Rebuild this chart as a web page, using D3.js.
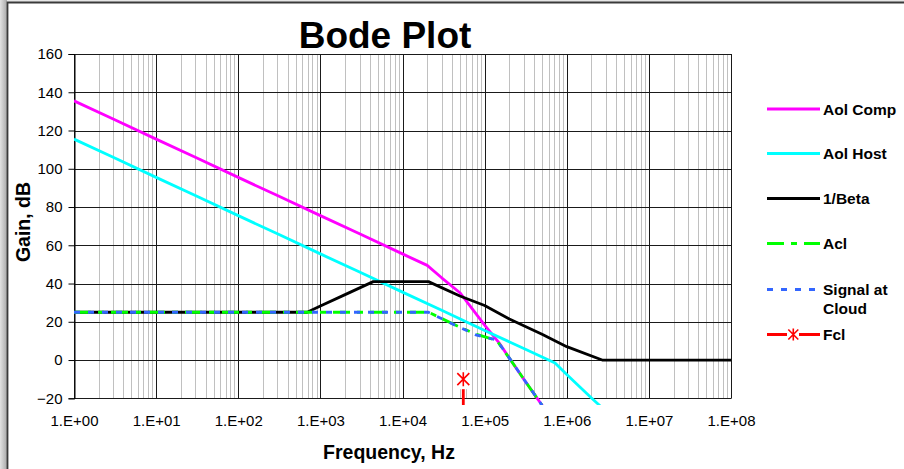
<!DOCTYPE html>
<html>
<head>
<meta charset="utf-8">
<script src="https://cdn.jsdelivr.net/npm/d3@7"></script>
<style>
html,body{margin:0;padding:0;background:#fff;}
svg{display:block;font-family:Arial,"Liberation Sans",sans-serif;}
</style>
</head>
<body>
<svg id="chart" width="904" height="469"></svg>
<script>
// ---------- data ----------
const yTicks = [-20, 0, 20, 40, 60, 80, 100, 120, 140, 160];
const xDecades = [1, 10, 100, 1000, 10000, 100000, 1000000, 10000000, 100000000];
const xTickLabels = ["1.E+00","1.E+01","1.E+02","1.E+03","1.E+04","1.E+05","1.E+06","1.E+07","1.E+08"];

const seriesNames = ["Aol Comp", "Aol Host", "1/Beta", "Acl", "Signal at Cloud", "Fcl"];

const aolCompFreq = [1, 3, 10, 30, 100, 300, 1000, 3000, 10000, 20000, 30000, 50000, 70000, 100000, 150000, 200000, 300000, 500000, 700000];
const aolCompDb   = [135.5, 126, 115.5, 106, 95.5, 86, 75.5, 66, 55.5, 49.5, 43, 35.2, 27, 18.3, 9, 1, -10, -23.6, -32];

const aolHostFreq = [1, 3, 10, 30, 100, 300, 1000, 3000, 10000, 30000, 100000, 300000, 720000, 1000000, 2000000, 3000000];
const aolHostDb   = [115.5, 106, 95.5, 86, 75.5, 66, 55.5, 46, 35.5, 26, 15.5, 6, -1.5, -7.6, -19.8, -26.8];

const betaFreq = [1, 10, 100, 690, 1000, 2000, 4400, 10000, 20700, 50000, 100000, 200000, 500000, 1000000, 2700000, 10000000, 100000000];
const betaDb   = [25, 25, 25, 25, 28.2, 34.2, 41, 41, 41, 33.5, 28.5, 21.5, 13.5, 7, 0, 0, 0];

const aclFreq = [1, 10, 100, 1000, 10000, 20700, 50000, 80000, 140000, 200000, 300000, 500000];
const aclDb   = [25, 25, 25, 25, 25, 25, 17.2, 13.4, 10.3, 1, -10, -23.6];

const signalFreq = [1, 10, 100, 1000, 10000, 20700, 50000, 80000, 140000, 200000, 300000, 500000];
const signalDb   = [25, 25, 25, 25, 25, 25, 17.0, 13.0, 10.5, 1, -10, -23.6];

const fclFreq = [55000, 55000];
const fclDb   = [-10, -40];

// ---------- layout ----------
const svg = d3.select("#chart");
const W = 904, H = 469;
const plotL = 74, plotR = 731, plotT = 54, plotB = 398.3;

const x = d3.scaleLog().domain([1, 1e8]).range([plotL, plotR]);
const y = d3.scaleLinear().domain([-20, 160]).range([plotB, plotT]);

// frame / background
const defs = svg.append("defs");
const grad = defs.append("linearGradient").attr("id", "lgrad").attr("x1", "0").attr("x2", "1").attr("y1", "0").attr("y2", "0");
grad.append("stop").attr("offset", "0").attr("stop-color", "#e2e2e2");
grad.append("stop").attr("offset", "1").attr("stop-color", "#a9a9a9");
svg.append("rect").attr("x", 0).attr("y", 0).attr("width", W).attr("height", H).attr("fill", "#fff");
svg.append("rect").attr("x", 0).attr("y", 0).attr("width", W).attr("height", 2).attr("fill", "#e6e6e6");
svg.append("rect").attr("x", 0).attr("y", 0).attr("width", 7).attr("height", H).attr("fill", "url(#lgrad)");
svg.append("path").attr("d", `M7.5,${H} L7.5,2.5 L${W},2.5`).attr("fill", "none").attr("stroke", "#3a3a3a").attr("stroke-width", 1.8);

defs.append("clipPath").attr("id", "plotclip").append("rect")
  .attr("x", plotL).attr("y", plotT - 2).attr("width", plotR - plotL + 1).attr("height", 405 - plotT + 2);

// gridlines
const grid = svg.append("g");
const minor = [];
for (let k = 0; k < 8; k++) for (let m = 2; m <= 9; m++) minor.push(m * Math.pow(10, k));
grid.selectAll("line.minor").data(minor).enter().append("line")
  .attr("x1", d => Math.round(x(d)) + 0.5).attr("x2", d => Math.round(x(d)) + 0.5)
  .attr("y1", plotT).attr("y2", plotB)
  .attr("stroke", "#c0c0c0").attr("stroke-width", 1);
grid.selectAll("line.hz").data(yTicks).enter().append("line")
  .attr("x1", plotL).attr("x2", plotR + 0.5)
  .attr("y1", d => Math.round(y(d)) + 0.5).attr("y2", d => Math.round(y(d)) + 0.5)
  .attr("stroke", "#1a1a1a").attr("stroke-width", 1);
grid.selectAll("line.major").data(xDecades).enter().append("line")
  .attr("x1", d => Math.round(x(d)) + 0.5).attr("x2", d => Math.round(x(d)) + 0.5)
  .attr("y1", plotT).attr("y2", plotB)
  .attr("stroke", "#1a1a1a").attr("stroke-width", 1);

// axes
const yAxis = svg.append("g").attr("transform", `translate(${Math.round(plotL) + 0.5},0)`)
  .call(d3.axisLeft(y).tickValues(yTicks).tickSize(6).tickPadding(6).tickFormat(d3.format("d")));
yAxis.select(".domain").attr("stroke", "#000");
yAxis.selectAll(".tick line").attr("stroke", "#000");
yAxis.selectAll("text").attr("font-size", 15).attr("fill", "#000").attr("font-family", "Arial, 'Liberation Sans', sans-serif");

const xAxis = svg.append("g").attr("transform", `translate(0,${plotB})`)
  .call(d3.axisBottom(x).tickValues(xDecades).tickSize(0).tickPadding(17)
    .tickFormat((d, i) => xTickLabels[i]));
xAxis.select(".domain").remove();
xAxis.selectAll("text").attr("font-size", 15).attr("fill", "#000").attr("font-family", "Arial, 'Liberation Sans', sans-serif");

// titles
svg.append("text").attr("x", 385).attr("y", 48).attr("text-anchor", "middle")
  .attr("font-size", 37).attr("font-weight", "bold").text("Bode Plot");
svg.append("text").attr("x", 389).attr("y", 459).attr("text-anchor", "middle")
  .attr("font-size", 19.5).attr("font-weight", "bold").text("Frequency, Hz");
svg.append("text").attr("transform", "translate(30,222) rotate(-90)").attr("text-anchor", "middle")
  .attr("font-size", 19.5).attr("font-weight", "bold").text("Gain, dB");

// series
const line = d3.line().x(d => x(d.f)).y(d => y(d.db));
const zip = (fs, ds) => fs.map((f, i) => ({ f: f, db: ds[i] }));
const series = [
  { name: seriesNames[0], data: zip(aolCompFreq, aolCompDb), color: "#ff00ff", dash: null },
  { name: seriesNames[1], data: zip(aolHostFreq, aolHostDb), color: "#00ffff", dash: null },
  { name: seriesNames[2], data: zip(betaFreq, betaDb), color: "#000000", dash: null },
  { name: seriesNames[3], data: zip(aclFreq, aclDb), color: "#00ff00", dash: "17,7,6,7" },
  { name: seriesNames[4], data: zip(signalFreq, signalDb), color: "#3366ff", dash: "6,8" },
  { name: seriesNames[5], data: zip(fclFreq, fclDb), color: "#ff0000", dash: null }
];
const plotG = svg.append("g").attr("clip-path", "url(#plotclip)");
series.forEach(s => {
  plotG.append("path").datum(s.data).attr("d", line)
    .attr("fill", "none").attr("stroke", s.color).attr("stroke-width", 2.8)
    .attr("stroke-linejoin", "round")
    .attr("stroke-dasharray", s.dash);
});

function asterisk(g, cx, cy, r, color) {
  g.append("path")
    .attr("d", `M${cx - r},${cy - r}L${cx + r},${cy + r}M${cx - r},${cy + r}L${cx + r},${cy - r}M${cx},${cy - r - 1}L${cx},${cy + r + 1}`)
    .attr("stroke", color).attr("stroke-width", 1.6).attr("fill", "none");
}
// Fcl marker with white box
const fx = x(fclFreq[0]), fy = y(fclDb[0]);
svg.append("rect").attr("x", fx - 8).attr("y", fy - 9).attr("width", 16).attr("height", 19).attr("fill", "#fff");
asterisk(svg, fx, fy, 6, "#ff0000");

// legend
const legX1 = 767, legX2 = 820, legTX = 823;
const legY = [109, 153.5, 198.5, 243.5, 289.5, 334.5];
const leg = svg.append("g");
series.forEach((s, i) => {
  leg.append("line").attr("x1", legX1).attr("x2", legX2).attr("y1", legY[i]).attr("y2", legY[i])
    .attr("stroke", s.color).attr("stroke-width", 2.8).attr("stroke-dasharray", s.dash);
});
leg.append("rect").attr("x", 787).attr("y", 327).attr("width", 12).attr("height", 15).attr("fill", "#fff");
asterisk(leg, 793.3, 334.5, 5, "#ff0000");
const legLabels = [["Aol Comp"], ["Aol Host"], ["1/Beta"], ["Acl"], ["Signal at", "Cloud"], ["Fcl"]];
legLabels.forEach((lines, i) => {
  lines.forEach((t, j) => {
    leg.append("text").attr("x", legTX).attr("y", legY[i] + j * 18.5).attr("dy", "0.36em")
      .attr("font-size", 15.5).attr("font-weight", "bold").attr("fill", "#000").text(t);
  });
});
</script>
</body>
</html>
